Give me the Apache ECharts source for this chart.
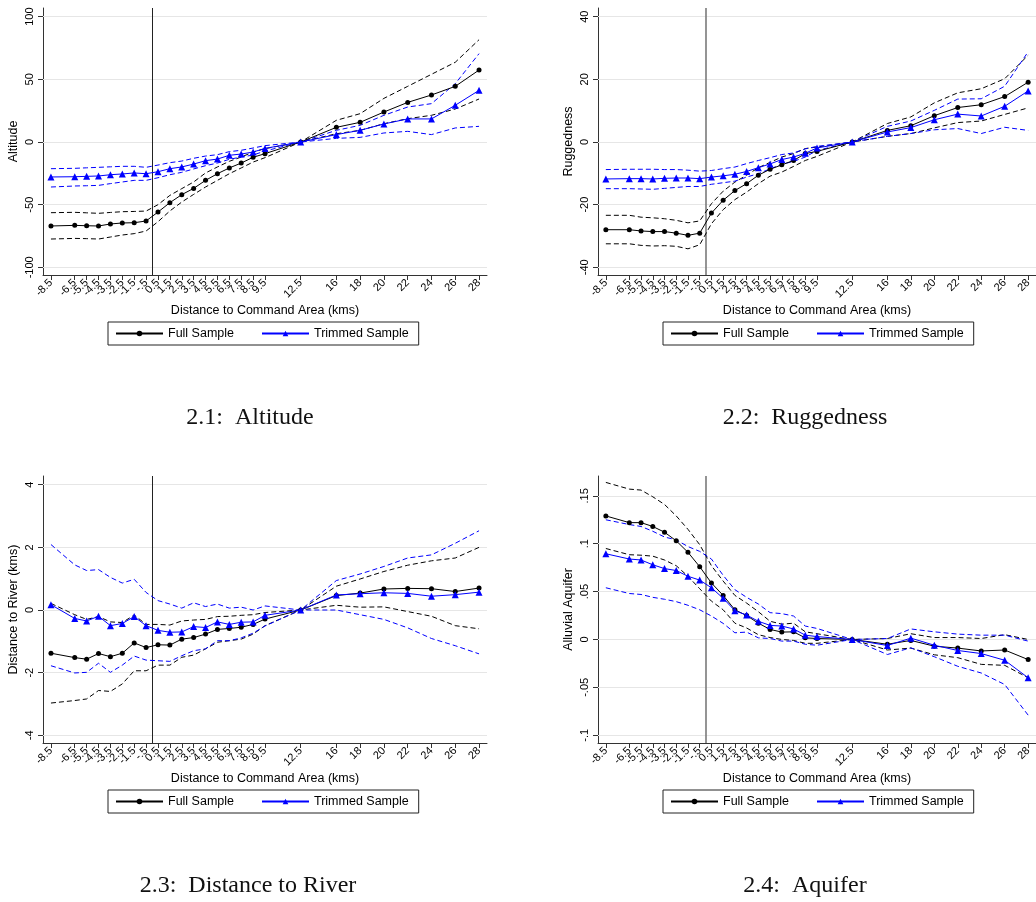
<!DOCTYPE html>
<html>
<head>
<meta charset="utf-8">
<script src="https://cdn.jsdelivr.net/npm/echarts@6/dist/echarts.min.js"></script>
<style>
  html, body { margin: 0; padding: 0; background: #fff; }
  #chart { width: 1036px; height: 902px; }
</style>
</head>
<body>
<div id="chart"></div>
<script>
// Distance bins (plotting position) and the tick text printed under each bin
const binCentre = [-8.5, -6.5, -5.5, -4.5, -3.5, -2.5, -1.5, -0.5, 0.5, 1.5, 2.5, 3.5, 4.5, 5.5, 6.5, 7.5, 8.5, 9.5,
                   12.5, 15.5, 17.5, 19.5, 21.5, 23.5, 25.5, 27.5];
const binLabel = ['-8.5', '-6.5', '-5.5', '-4.5', '-3.5', '-2.5', '-1.5', '-.5', '0.5', '1.5', '2.5', '3.5', '4.5', '5.5',
                  '6.5', '7.5', '8.5', '9.5', '12.5', '16', '18', '20', '22', '24', '26', '28'];

// 2.1 Altitude
const altFull   = [-67.0, -66.5, -66.8, -67.0, -65.4, -64.6, -64.4, -63.0, -55.9, -48.4, -42.0, -37.0, -30.6, -25.3, -20.7, -16.8, -12.2, -9.3, 0, 11.7, 15.7, 23.9, 31.6, 37.5, 44.4, 57.4];
const altFullHi = [-56.4, -56.1, -56.5, -56.9, -56.2, -55.6, -55.4, -55.1, -50.0, -42.6, -37.2, -31.9, -24.7, -19.9, -15.4, -12.0, -8.0, -5.3, 0, 17.3, 22.6, 34.8, 44.4, 54.0, 63.6, 81.6];
const altFullLo = [-77.4, -76.9, -77.1, -77.4, -75.8, -74.2, -73.1, -71.0, -63.6, -55.0, -47.9, -41.8, -35.9, -30.6, -25.3, -20.7, -16.0, -12.5, 0, 6.6, 9.3, 14.6, 18.6, 21.3, 26.3, 34.3];
const altTrim   = [-27.9, -27.7, -27.4, -27.1, -26.1, -25.5, -24.7, -25.3, -23.7, -21.3, -19.9, -17.6, -14.9, -13.6, -10.6, -9.6, -8.0, -5.1, 0, 5.9, 9.3, 14.4, 18.4, 18.4, 29.3, 41.2];
const altTrimHi = [-21.3, -21.0, -20.6, -20.2, -19.8, -19.4, -19.4, -20.2, -18.4, -16.5, -15.2, -13.0, -11.2, -10.1, -7.7, -6.6, -4.8, -2.9, 0, 9.3, 13.3, 21.3, 27.9, 30.6, 46.5, 70.5];
const altTrimLo = [-35.9, -35.1, -34.9, -34.6, -33.2, -31.9, -30.6, -30.6, -28.5, -26.1, -24.2, -21.5, -18.9, -16.8, -13.8, -12.0, -10.4, -7.2, 0, 2.9, 3.7, 7.2, 8.5, 5.9, 11.2, 12.5];
const altTicks  = [-100, -50, 0, 50, 100];

// 2.2 Ruggedness
const rugFull   = [-28.0, -28.0, -28.4, -28.6, -28.6, -29.1, -29.8, -29.1, -22.7, -18.6, -15.5, -13.3, -10.6, -8.7, -7.3, -5.9, -3.7, -3.0, 0, 3.7, 5.2, 8.4, 11.0, 11.9, 14.5, 19.1];
const rugFullHi = [-23.4, -23.4, -24.0, -24.2, -24.5, -25.0, -25.8, -25.2, -19.7, -15.7, -12.8, -10.6, -8.2, -6.5, -4.8, -3.7, -2.1, -1.6, 0, 5.9, 8.0, 12.5, 15.7, 17.0, 20.2, 27.7];
const rugFullLo = [-32.5, -32.5, -33.0, -33.2, -33.1, -33.3, -34.1, -32.8, -26.1, -21.6, -18.4, -16.0, -13.3, -10.9, -9.6, -7.8, -5.9, -4.6, 0, 1.8, 2.7, 4.5, 6.2, 6.7, 8.8, 10.9];
const rugTrim   = [-11.8, -11.7, -11.7, -11.8, -11.6, -11.5, -11.5, -11.7, -11.2, -10.8, -10.3, -9.4, -8.2, -7.0, -5.6, -4.8, -3.6, -1.9, 0, 3.2, 4.6, 7.1, 8.9, 8.3, 11.4, 16.3];
const rugTrimHi = [-8.8, -8.7, -8.7, -8.7, -8.8, -8.8, -9.0, -9.3, -9.1, -8.5, -8.0, -6.9, -5.9, -5.0, -4.0, -3.5, -2.2, -1.4, 0, 5.0, 6.7, 10.1, 13.7, 13.8, 17.8, 28.8];
const rugTrimLo = [-14.9, -14.9, -15.0, -15.1, -14.8, -14.5, -14.2, -14.2, -13.5, -13.0, -12.5, -11.2, -10.1, -8.6, -7.1, -6.2, -4.8, -2.7, 0, 1.8, 2.7, 3.9, 4.3, 2.7, 4.7, 3.7];
const rugTicks  = [-40, -20, 0, 20, 40];

// 2.3 Distance to River
const rivFull   = [-1.38, -1.52, -1.57, -1.39, -1.49, -1.38, -1.05, -1.20, -1.11, -1.12, -0.93, -0.88, -0.77, -0.62, -0.59, -0.55, -0.46, -0.29, 0, 0.46, 0.54, 0.67, 0.69, 0.68, 0.59, 0.70];
const rivFullHi = [0.21, -0.15, -0.30, -0.21, -0.38, -0.40, -0.16, -0.46, -0.46, -0.48, -0.35, -0.32, -0.30, -0.21, -0.20, -0.17, -0.15, -0.08, 0, 0.76, 0.99, 1.23, 1.43, 1.57, 1.66, 2.00];
const rivFullLo = [-2.97, -2.89, -2.84, -2.57, -2.60, -2.36, -1.94, -1.94, -1.76, -1.76, -1.51, -1.44, -1.24, -1.03, -0.98, -0.93, -0.77, -0.50, 0, 0.15, 0.09, 0.10, -0.05, -0.20, -0.50, -0.60];
const rivTrim   = [0.17, -0.27, -0.35, -0.20, -0.50, -0.43, -0.21, -0.50, -0.65, -0.71, -0.70, -0.53, -0.56, -0.38, -0.46, -0.39, -0.38, -0.17, 0, 0.48, 0.52, 0.55, 0.53, 0.44, 0.49, 0.57];
const rivTrimHi = [2.09, 1.44, 1.26, 1.29, 1.04, 0.86, 0.98, 0.56, 0.30, 0.19, 0.06, 0.23, 0.11, 0.19, 0.06, 0.09, 0.00, 0.13, 0, 0.94, 1.15, 1.39, 1.66, 1.76, 2.13, 2.53];
const rivTrimLo = [-1.78, -2.01, -1.99, -1.70, -1.99, -1.76, -1.47, -1.60, -1.62, -1.64, -1.46, -1.30, -1.24, -0.98, -0.98, -0.89, -0.74, -0.51, 0, 0.00, -0.15, -0.30, -0.57, -0.91, -1.14, -1.40];
const rivTicks  = [-4, -2, 0, 2, 4];

// 2.4 Aquifer
const aqFull   = [0.129, 0.122, 0.122, 0.118, 0.112, 0.103, 0.091, 0.076, 0.059, 0.046, 0.031, 0.025, 0.017, 0.0105, 0.0077, 0.008, 0.0017, 0.001, 0, -0.005, -0.001, -0.007, -0.009, -0.012, -0.011, -0.021];
const aqFullHi = [0.164, 0.157, 0.156, 0.149, 0.141, 0.129, 0.115, 0.099, 0.077, 0.061, 0.046, 0.038, 0.029, 0.019, 0.016, 0.017, 0.008, 0.006, 0, 0.001, 0.006, 0.002, 0.002, 0.001, 0.005, 0.000];
const aqFullLo = [0.095, 0.0885, 0.088, 0.087, 0.083, 0.077, 0.066, 0.053, 0.040, 0.031, 0.017, 0.012, 0.005, 0.002, 0.000, -0.001, -0.004, -0.004, 0, -0.011, -0.009, -0.016, -0.019, -0.026, -0.027, -0.040];
const aqTrim   = [0.0895, 0.084, 0.083, 0.078, 0.074, 0.072, 0.066, 0.062, 0.054, 0.043, 0.030, 0.0255, 0.019, 0.0147, 0.014, 0.011, 0.0045, 0.003, 0, -0.0063, 0.0014, -0.006, -0.0115, -0.0147, -0.0217, -0.040];
const aqTrimHi = [0.125, 0.120, 0.118, 0.113, 0.107, 0.104, 0.097, 0.092, 0.084, 0.067, 0.052, 0.044, 0.037, 0.028, 0.027, 0.0245, 0.014, 0.0115, 0, 0.001, 0.011, 0.008, 0.0056, 0.0045, 0.0045, -0.0017];
const aqTrimLo = [0.054, 0.048, 0.047, 0.044, 0.042, 0.0395, 0.0357, 0.031, 0.0245, 0.0168, 0.007, 0.0077, 0.0017, 0.001, -0.0017, -0.0017, -0.005, -0.006, 0, -0.0157, -0.0087, -0.018, -0.028, -0.035, -0.047, -0.079];
const aqTicks  = [-0.1, -0.05, 0, 0.05, 0.1, 0.15];

const legendNames = ['Full Sample', 'Trimmed Sample'];
const xTitle = 'Distance to Command Area (kms)';

const SANS = "'Liberation Sans', Arial, Helvetica, sans-serif";
const SERIF = "'Liberation Serif', 'Times New Roman', serif";

// Panel layout (pixels) and per-panel styling
const panels = [
  { left: 43,  top: 8,   yMin: -106.1, yMax: 106.9, ticks: altTicks, yName: 'Altitude',
    full: altFull, fullHi: altFullHi, fullLo: altFullLo, trim: altTrim, trimHi: altTrimHi, trimLo: altTrimLo,
    caption: '2.1:\u2002Altitude', capX: 250, capY: 418, vColor: '#222', vWidth: 1 },
  { left: 598, top: 8,   yMin: -42.46, yMax: 42.78, ticks: rugTicks, yName: 'Ruggedness',
    full: rugFull, fullHi: rugFullHi, fullLo: rugFullLo, trim: rugTrim, trimHi: rugTrimHi, trimLo: rugTrimLo,
    caption: '2.2:\u2002Ruggedness', capX: 805, capY: 418, vColor: '#7a7a7a', vWidth: 1.6 },
  { left: 43,  top: 476, yMin: -4.246, yMax: 4.278, ticks: rivTicks, yName: 'Distance to River (kms)',
    full: rivFull, fullHi: rivFullHi, fullLo: rivFullLo, trim: rivTrim, trimHi: rivTrimHi, trimLo: rivTrimLo,
    caption: '2.3:\u2002Distance to River', capX: 248, capY: 886, vColor: '#222', vWidth: 1 },
  { left: 598, top: 476, yMin: -0.1081, yMax: 0.1707, ticks: aqTicks, yName: 'Alluvial Aquifer',
    full: aqFull, fullHi: aqFullHi, fullLo: aqFullLo, trim: aqTrim, trimHi: aqTrimHi, trimLo: aqTrimLo,
    caption: '2.4:\u2002Aquifer', capX: 805, capY: 886, vColor: '#7a7a7a', vWidth: 1.6 }
];

const PLOT_W = 444, PLOT_H = 267;
const X_MIN = -9.17, X_MAX = 28.17;

function pts(ys) { return binCentre.map((x, i) => [x, ys[i]]); }
function fmtY(v) { return String(v).replace(/^(-?)0\./, '$1.'); }
function fmtX(v) {
  const i = binCentre.indexOf(v);
  return i >= 0 ? binLabel[i] : '';
}

const grid = [], xAxis = [], yAxis = [], legend = [], series = [], graphic = [];

panels.forEach((p, k) => {
  grid.push({ left: p.left, top: p.top, width: PLOT_W, height: PLOT_H });

  xAxis.push({
    type: 'value', gridIndex: k, min: X_MIN, max: X_MAX, position: 'bottom',
    name: xTitle, nameLocation: 'middle', nameGap: 29,
    nameTextStyle: { fontFamily: SANS, fontSize: 12.5, color: '#000' },
    axisLine: { onZero: false, lineStyle: { color: '#333', width: 1 } },
    axisTick: { show: true, length: 5, customValues: binCentre, lineStyle: { color: '#333' } },
    axisLabel: { customValues: binCentre, formatter: fmtX, rotate: 45, margin: 6,
                 fontFamily: SANS, fontSize: 11, color: '#000' },
    splitLine: { show: false }
  });

  yAxis.push({
    type: 'value', gridIndex: k, min: p.yMin, max: p.yMax,
    name: p.yName, nameLocation: 'middle', nameRotate: 90, nameGap: 23,
    nameTextStyle: { fontFamily: SANS, fontSize: 12.5, color: '#000' },
    axisLine: { show: true, onZero: false, lineStyle: { color: '#333', width: 1 } },
    axisTick: { show: true, length: 5, customValues: p.ticks, lineStyle: { color: '#333' } },
    axisLabel: { customValues: p.ticks, formatter: fmtY, rotate: 90, margin: 8,
                 fontFamily: SANS, fontSize: 11, color: '#000' },
    splitLine: { show: false }
  });

  legend.push({
    data: legendNames, left: p.left + 65, top: p.top + 314,
    orient: 'horizontal', itemWidth: 47, itemHeight: 7, itemGap: 27,
    padding: [5, 10, 5, 7], borderColor: '#222', borderWidth: 1,
    textStyle: { fontFamily: SANS, fontSize: 12.5, color: '#000' },
    selectedMode: false
  });

  // Horizontal grid lines at the labelled ticks and the vertical line at distance 0
  const refLines = p.ticks.map(v => ({ yAxis: v, lineStyle: { color: '#e6e6e6', width: 1, type: 'solid' } }));
  refLines.push({ xAxis: 0, lineStyle: { color: p.vColor, width: p.vWidth, type: 'solid' } });
  series.push({
    type: 'line', name: 'ref', xAxisIndex: k, yAxisIndex: k, data: [], silent: true, z: 1,
    markLine: { silent: true, symbol: ['none', 'none'], label: { show: false }, animation: false,
                z: 1, emphasis: { disabled: true }, data: refLines }
  });

  const dash = { width: 1, type: [5, 3] };
  [[p.fullHi, '#000'], [p.fullLo, '#000'], [p.trimHi, '#0000ff'], [p.trimLo, '#0000ff']].forEach(([ys, c]) => {
    series.push({
      type: 'line', name: 'band', xAxisIndex: k, yAxisIndex: k, data: pts(ys), symbol: 'none',
      lineStyle: Object.assign({ color: c }, dash), silent: true, z: 3
    });
  });

  series.push({
    type: 'line', name: 'Full Sample', xAxisIndex: k, yAxisIndex: k, data: pts(p.full),
    symbol: 'circle', symbolSize: 5, lineStyle: { color: '#000', width: 1 },
    itemStyle: { color: '#000' }, z: 4, silent: true
  });
  series.push({
    type: 'line', name: 'Trimmed Sample', xAxisIndex: k, yAxisIndex: k, data: pts(p.trim),
    symbol: 'triangle', symbolSize: 7, lineStyle: { color: '#0000ff', width: 1 },
    itemStyle: { color: '#0000ff' }, z: 5, silent: true
  });

  graphic.push({
    type: 'text', x: p.capX, y: p.capY,
    style: { text: p.caption, font: '24px ' + SERIF, fill: '#111', align: 'center', verticalAlign: 'middle' }
  });
});

const chart = echarts.init(document.getElementById('chart'), null, { renderer: 'canvas' });
chart.setOption({
  animation: false,
  backgroundColor: '#fff',
  grid, xAxis, yAxis, legend, series, graphic
});
</script>
</body>
</html>
